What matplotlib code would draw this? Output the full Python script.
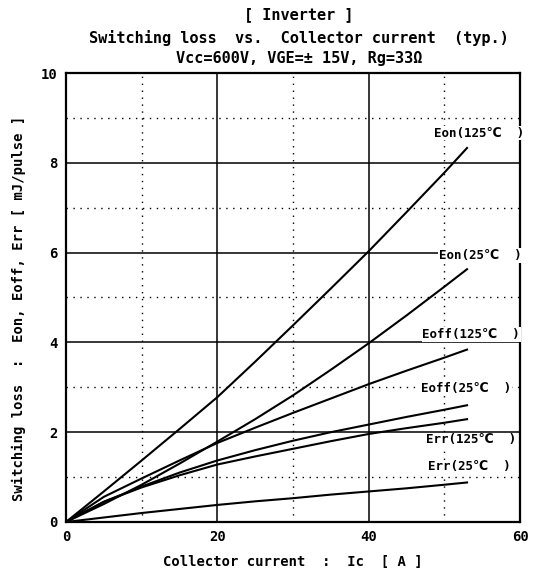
import matplotlib
matplotlib.use("Agg")
import matplotlib.pyplot as plt
import numpy as np

plt.rcParams['font.family'] = ['DejaVu Sans Mono', 'DejaVu Sans']

# Collector current [A]
ic = [0, 5, 10, 15, 20, 25, 30, 35, 40, 45, 50, 53]

# Switching loss [mJ/pulse]
eon_125 = [0, 0.68, 1.37, 2.07, 2.78, 3.57, 4.38, 5.20, 6.03, 6.90, 7.78, 8.33]
eon_25 = [0, 0.40, 0.83, 1.30, 1.79, 2.29, 2.82, 3.39, 3.98, 4.60, 5.24, 5.63]
eoff_125 = [0, 0.56, 0.97, 1.37, 1.76, 2.10, 2.43, 2.75, 3.07, 3.37, 3.66, 3.84]
eoff_25 = [0, 0.45, 0.79, 1.10, 1.37, 1.60, 1.81, 2.00, 2.17, 2.34, 2.50, 2.60]
err_125 = [0, 0.45, 0.77, 1.04, 1.28, 1.46, 1.63, 1.80, 1.96, 2.09, 2.21, 2.29]
err_25 = [0, 0.10, 0.20, 0.29, 0.38, 0.46, 0.53, 0.61, 0.68, 0.75, 0.83, 0.88]

series = [eon_125, eon_25, eoff_125, eoff_25, err_125, err_25]
labels = ["Eon(125℃  )", "Eon(25℃  )", "Eoff(125℃  )",
          "Eoff(25℃  )", "Err(125℃  )", "Err(25℃  )"]
# label anchor (right edge x, centre y) in data units
label_pos = [(60.5, 8.66), (60.2, 5.94), (60.0, 4.18),
             (58.8, 2.98), (59.5, 1.83), (58.8, 1.23)]

x_ticks = [0, 20, 40, 60]
y_ticks = [0, 2, 4, 6, 8, 10]

fig = plt.figure(figsize=(5.44, 5.78), dpi=100)
ax = fig.add_axes([0.1213, 0.0969, 0.8346, 0.7768])

ax.set_xlim(0, 60)
ax.set_ylim(0, 10)

# grid: solid at major, dotted at minor
for v in [20, 40]:
    ax.axvline(v, color='black', lw=1.1, zorder=1)
for v in [10, 30, 50]:
    ax.axvline(v, color='black', lw=1.0, ls=(0, (1, 4)), zorder=1)
for v in [2, 4, 6, 8]:
    ax.axhline(v, color='black', lw=1.1, zorder=1)
for v in [1, 3, 5, 7, 9]:
    ax.axhline(v, color='black', lw=1.0, ls=(0, (1, 4)), zorder=1)

for s in series:
    ax.plot(ic, s, color='black', lw=1.5, zorder=3, solid_joinstyle='round')

for lab, (lx, ly) in zip(labels, label_pos):
    ax.text(lx, ly, lab, ha='right', va='center', fontsize=9,
            fontweight='bold', color='black', zorder=4,
            bbox=dict(facecolor='white', edgecolor='none', pad=0.5),
            clip_on=False)

ax.set_xticks(x_ticks)
ax.set_yticks(y_ticks)
ax.set_xticks([10, 30, 50], minor=True)
ax.set_yticks([1, 3, 5, 7, 9], minor=True)
ax.tick_params(which='both', direction='in', length=0, labelsize=10)
ax.tick_params(which='major', pad=6)
for lbl in ax.get_xticklabels() + ax.get_yticklabels():
    lbl.set_fontweight('bold')

for sp in ax.spines.values():
    sp.set_linewidth(1.6)

ax.set_xlabel("Collector current  :  Ic  [ A ]", fontsize=10,
              fontweight='bold', labelpad=8)
ax.set_ylabel("Switching loss  :  Eon, Eoff, Err [ mJ/pulse ]",
              fontsize=10, fontweight='bold')
ax.yaxis.set_label_coords(-0.088, 0.475)

fig.text(0.55, 0.975, "[ Inverter ]", ha='center', va='center',
         fontsize=11, fontweight='bold')
fig.text(0.55, 0.934, "Switching loss  vs.  Collector current  (typ.)",
         ha='center', va='center', fontsize=11, fontweight='bold')
fig.text(0.55, 0.899, "Vcc=600V, VGE=± 15V, Rg=33Ω", ha='center',
         va='center', fontsize=11, fontweight='bold')

fig.savefig("out.png", dpi=100, facecolor='white')
